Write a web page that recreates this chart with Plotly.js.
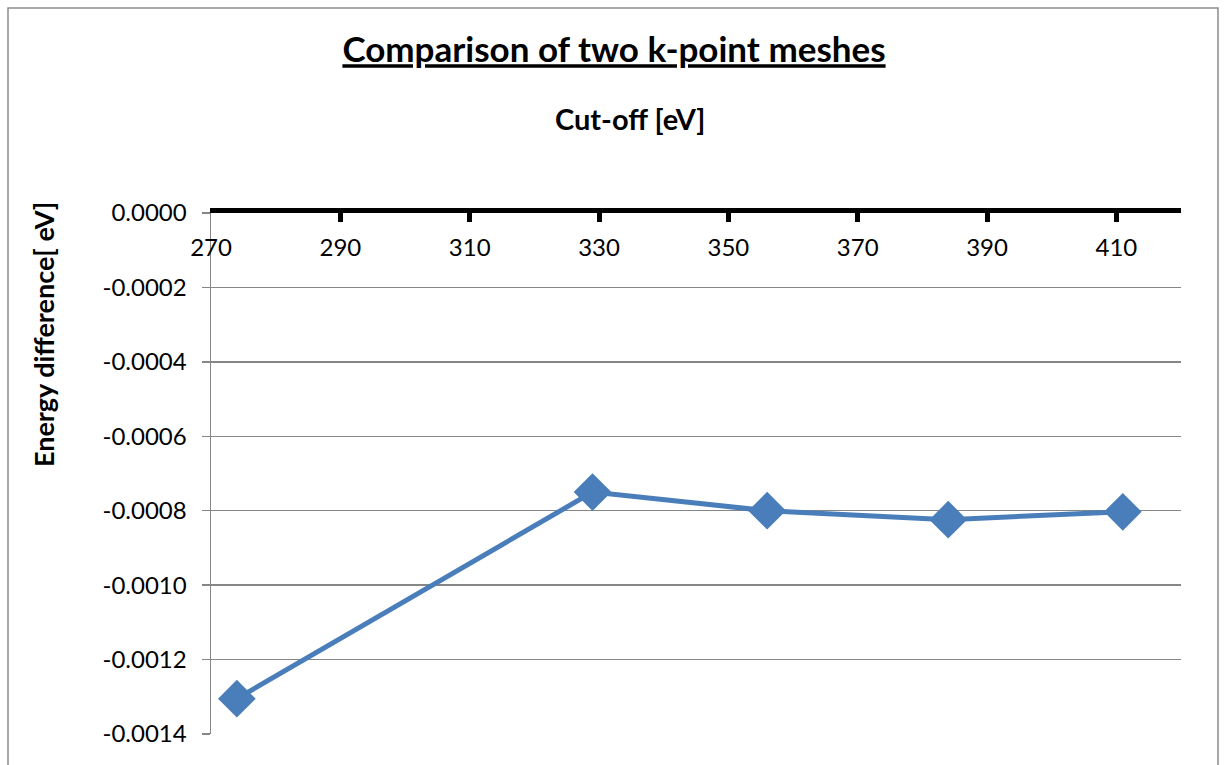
<!DOCTYPE html>
<html>
<head>
<meta charset="utf-8">
<script src="https://cdn.plot.ly/plotly-3.0.1.min.js"></script>
<style>
  html, body { margin: 0; padding: 0; background: #ffffff; }
  #chart { width: 1226px; height: 765px; }
</style>
</head>
<body>
<div id="chart"></div>
<script>
// Cut-off energies [eV] and the energy difference between the two k-point meshes [eV]
const cutoff = [274, 329, 356, 384, 411];
const energyDiff = [-0.001305, -0.00075, -0.0008, -0.000824, -0.000803];

// Axis ticks and their labels
const xTicks = [270, 290, 310, 330, 350, 370, 390, 410];
const xTickLabels = ['270', '290', '310', '330', '350', '370', '390', '410'];
const yTicks = [0, -0.0002, -0.0004, -0.0006, -0.0008, -0.0010, -0.0012, -0.0014];
const yTickLabels = ['0.0000', '-0.0002', '-0.0004', '-0.0006', '-0.0008', '-0.0010', '-0.0012', '-0.0014'];

const FONT = 'Lato, "Open Sans", "DejaVu Sans", sans-serif';
const BLUE = '#4a7ebb';
const GREY = '#868686';

const trace = {
  x: cutoff,
  y: energyDiff,
  type: 'scatter',
  mode: 'lines+markers',
  line: { color: BLUE, width: 5 },
  marker: { symbol: 'diamond', size: 29, color: BLUE },
  cliponaxis: false,
  hoverinfo: 'x+y'
};

const layout = {
  width: 1226,
  height: 765,
  margin: { l: 211, r: 45, t: 213, b: 31, pad: 0 },
  paper_bgcolor: '#ffffff',
  plot_bgcolor: '#ffffff',
  showlegend: false,
  font: { family: FONT, color: '#000000' },
  title: {
    text: '<b><u>Comparison of two k-point meshes</u></b>',
    font: { family: FONT, size: 35, color: '#000000' },
    xref: 'container', yref: 'container',
    x: 614 / 1226, xanchor: 'center',
    y: 1 - 50 / 765, yanchor: 'middle'
  },
  xaxis: {
    range: [270, 420],
    side: 'top',
    tickmode: 'array',
    tickvals: xTicks,
    ticktext: xTickLabels,
    ticks: 'inside',
    ticklen: 9,
    tickwidth: 5,
    tickcolor: '#000000',
    ticklabelposition: 'inside',
    ticklabeloverflow: 'allow',
    ticklabelstandoff: 19,
    tickfont: { family: FONT, size: 24, color: '#000000' },
    showline: true,
    linecolor: '#000000',
    linewidth: 5,
    showgrid: false,
    zeroline: false,
    automargin: false,
    fixedrange: true
  },
  yaxis: {
    range: [-0.0014, 0],
    tickmode: 'array',
    tickvals: yTicks,
    ticktext: yTickLabels,
    ticks: 'outside',
    ticklen: 8,
    tickwidth: 1.5,
    tickcolor: GREY,
    ticklabelstandoff: 10,
    tickfont: { family: FONT, size: 24, color: '#000000' },
    showline: true,
    linecolor: GREY,
    linewidth: 1.5,
    showgrid: true,
    gridcolor: GREY,
    gridwidth: 1.5,
    zeroline: false,
    automargin: false,
    fixedrange: true
  },
  annotations: [
    {
      // x-axis title, sitting above the axis line at the top of the plot
      text: '<b>Cut-off [eV]</b>',
      xref: 'paper', yref: 'paper',
      x: (630 - 211) / 970, y: 1 + (213 - 118) / 521,
      xanchor: 'center', yanchor: 'middle',
      showarrow: false,
      font: { family: FONT, size: 29, color: '#000000' }
    },
    {
      // y-axis title
      text: '<b>Energy difference[ eV]</b>',
      xref: 'paper', yref: 'paper',
      x: (43 - 211) / 970, y: (734 - 335) / 521,
      xanchor: 'center', yanchor: 'middle',
      textangle: -90,
      showarrow: false,
      font: { family: FONT, size: 27, color: '#000000' }
    }
  ],
  shapes: [
    {
      type: 'rect',
      xref: 'paper', yref: 'paper',
      x0: (8 - 211) / 970, x1: (1218 - 211) / 970,
      y0: -0.2, y1: 1 + (213 - 8) / 521,
      line: { color: '#8c8c8c', width: 1.5 },
      fillcolor: 'rgba(0,0,0,0)',
      layer: 'below'
    }
  ]
};

Plotly.newPlot('chart', [trace], layout, { staticPlot: true, displayModeBar: false });
</script>
</body>
</html>
